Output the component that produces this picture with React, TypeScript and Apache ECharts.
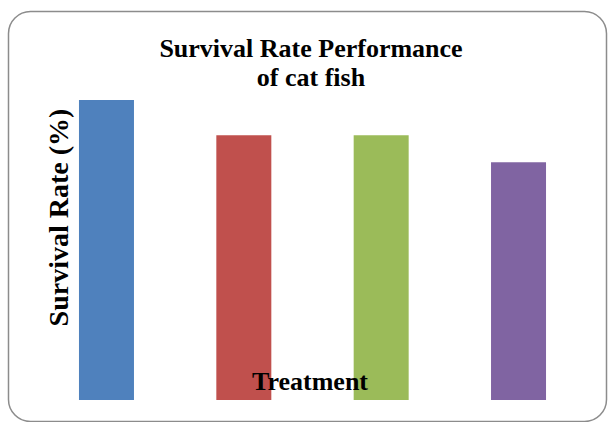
import React, { useEffect, useRef } from "react";
import * as echarts from "echarts";

const categories = ["T1", "T2", "T3", "T4"];
const survivalRates = [85, 75, 75, 67.4];
const barColors = ["#4F81BD", "#C0504D", "#9BBB59", "#8064A2"];
const titleLines = ["Survival Rate Performance", "of cat fish"];
const yAxisName = "Survival Rate (%)";
const xAxisName = "Treatment";

export default function App() {
  const ref = useRef<HTMLDivElement>(null);
  useEffect(() => {
    if (!ref.current) return;
    const chart = echarts.init(ref.current, null, { renderer: "svg" });
    const font = "'Liberation Serif', 'Times New Roman', serif";
    chart.setOption({
      animation: false,
      backgroundColor: "#ffffff",
      grid: { left: 37.8, right: 20.8, top: 47.1, bottom: 22, containLabel: false },
      xAxis: {
        type: "category",
        data: categories,
        show: false,
      },
      yAxis: {
        type: "value",
        min: 0,
        max: 100,
        show: false,
      },
      series: [
        {
          type: "bar",
          barWidth: 55,
          data: survivalRates.map((v, i) => ({ value: v, itemStyle: { color: barColors[i] } })),
        },
      ],
      graphic: [
        {
          type: "rect",
          z: 100,
          silent: true,
          shape: { x: 8.5, y: 11.5, width: 598, height: 410, r: 22 },
          style: { fill: "none", stroke: "#8c8c8c", lineWidth: 1.5 },
        },
        {
          type: "text",
          z: 100,
          x: 311,
          y: 48.7,
          style: {
            text: titleLines[0],
            font: `bold 26px ${font}`,
            fill: "#000",
            align: "center",
            verticalAlign: "middle",
          },
        },
        {
          type: "text",
          z: 100,
          x: 311,
          y: 77.7,
          style: {
            text: titleLines[1],
            font: `bold 26px ${font}`,
            fill: "#000",
            align: "center",
            verticalAlign: "middle",
          },
        },
        {
          type: "text",
          z: 100,
          x: 310,
          y: 381.7,
          style: {
            text: xAxisName,
            font: `bold 26px ${font}`,
            fill: "#000",
            align: "center",
            verticalAlign: "middle",
          },
        },
        {
          type: "text",
          z: 100,
          x: 58.5,
          y: 217.5,
          rotation: Math.PI / 2,
          style: {
            text: yAxisName,
            font: `bold 28px ${font}`,
            fill: "#000",
            align: "center",
            verticalAlign: "middle",
          },
        },
      ],
    });
    return () => chart.dispose();
  }, []);
  return (
    <div
      ref={ref}
      style={{ position: "absolute", left: 0, top: 0, width: 608, height: 422 }}
    />
  );
}
